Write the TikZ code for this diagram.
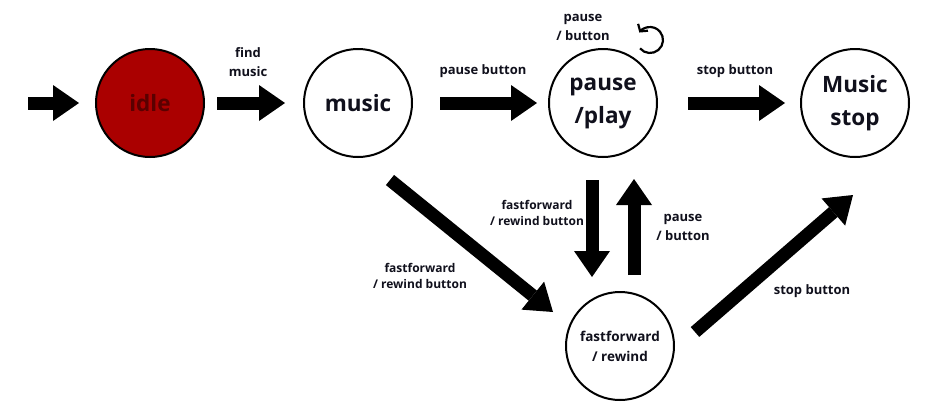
\documentclass[tikz,border=0pt]{standalone}
\usepackage{fontspec}
\setmainfont{Open Sans}
\usetikzlibrary{arrows.meta}
\definecolor{idlefill}{HTML}{AA0000}
\definecolor{idletext}{HTML}{5A0000}
\definecolor{ink}{HTML}{10101C}
\begin{document}
\begin{tikzpicture}[x=1pt,y=-1pt,
  state/.style={circle,draw=black,line width=2pt,minimum size=108pt,inner sep=0pt,
    align=center,text=ink,fill=white},
  bigfont/.style={font=\bfseries\fontsize{22.5}{33}\selectfont},
  bigarrow/.style={line width=13pt,arrows={-Triangle[width=36pt,length=26pt,line width=0pt]}},
  lbl/.style={font=\bfseries\fontsize{13}{19}\selectfont,align=center,text=ink},
  slbl/.style={font=\bfseries\fontsize{12}{16}\selectfont,align=center,text=ink},
]
\fill[white] (0,0) rectangle (927,416);
\useasboundingbox (0,0) rectangle (927,416);

% states
\node[state,bigfont,fill=idlefill,text=idletext] (idle) at (150,103) {idle};
\node[state,bigfont] (music) at (358,103) {music};
\node[state,bigfont] (pp) at (603,103) {pause\\/play};
\node[state,bigfont] (stop) at (855,103) {Music\\stop};
\node[state,font=\bfseries\fontsize{13.5}{20}\selectfont] (ff) at (620,346) {fastforward\\/ rewind};

% free ends
\coordinate (init) at (28,103);
\coordinate (d1s) at (390,180);
\coordinate (d1e) at (553,312);
\coordinate (dns) at (592,180);
\coordinate (dne) at (592,277);
\coordinate (ups) at (634,275);
\coordinate (upe) at (634,179);
\coordinate (d2s) at (695,332);
\coordinate (d2e) at (853,195);

% arrows
\draw[bigarrow,shorten >=16pt] (init) -- (idle);
\draw[bigarrow,shorten <=12pt,shorten >=18pt] (idle) -- (music);
\draw[bigarrow,shorten <=27pt,shorten >=11pt] (music) -- (pp);
\draw[bigarrow,shorten <=30pt,shorten >=15pt] (pp) -- (stop);
\draw[bigarrow] (d1s) -- (d1e);
\draw[bigarrow] (dns) -- (dne);
\draw[bigarrow] (ups) -- (upe);
\draw[bigarrow] (d2s) -- (d2e);

% self-loop icon
\coordinate (loopc) at (650,40);
\draw[line width=2.2pt,-{Straight Barb[length=5pt,width=12pt]}]
  ([shift={(-220:13)}]loopc) arc[start angle=-220,end angle=-505,radius=13];

% labels
\node[lbl] (l1) at (248,62) {find\\music};
\node[lbl] (l2) at (483,71) {pause button};
\node[lbl] (l3) at (583,27) {pause\\/ button};
\node[lbl] (l4) at (735,71) {stop button};
\node[slbl] (l5) at (537,213) {fastforward\\/ rewind button};
\node[slbl] (l6) at (420,276) {fastforward\\/ rewind button};
\node[lbl] (l7) at (683,227) {pause\\/ button};
\node[lbl] (l8) at (812,291) {stop button};
\end{tikzpicture}
\end{document}
